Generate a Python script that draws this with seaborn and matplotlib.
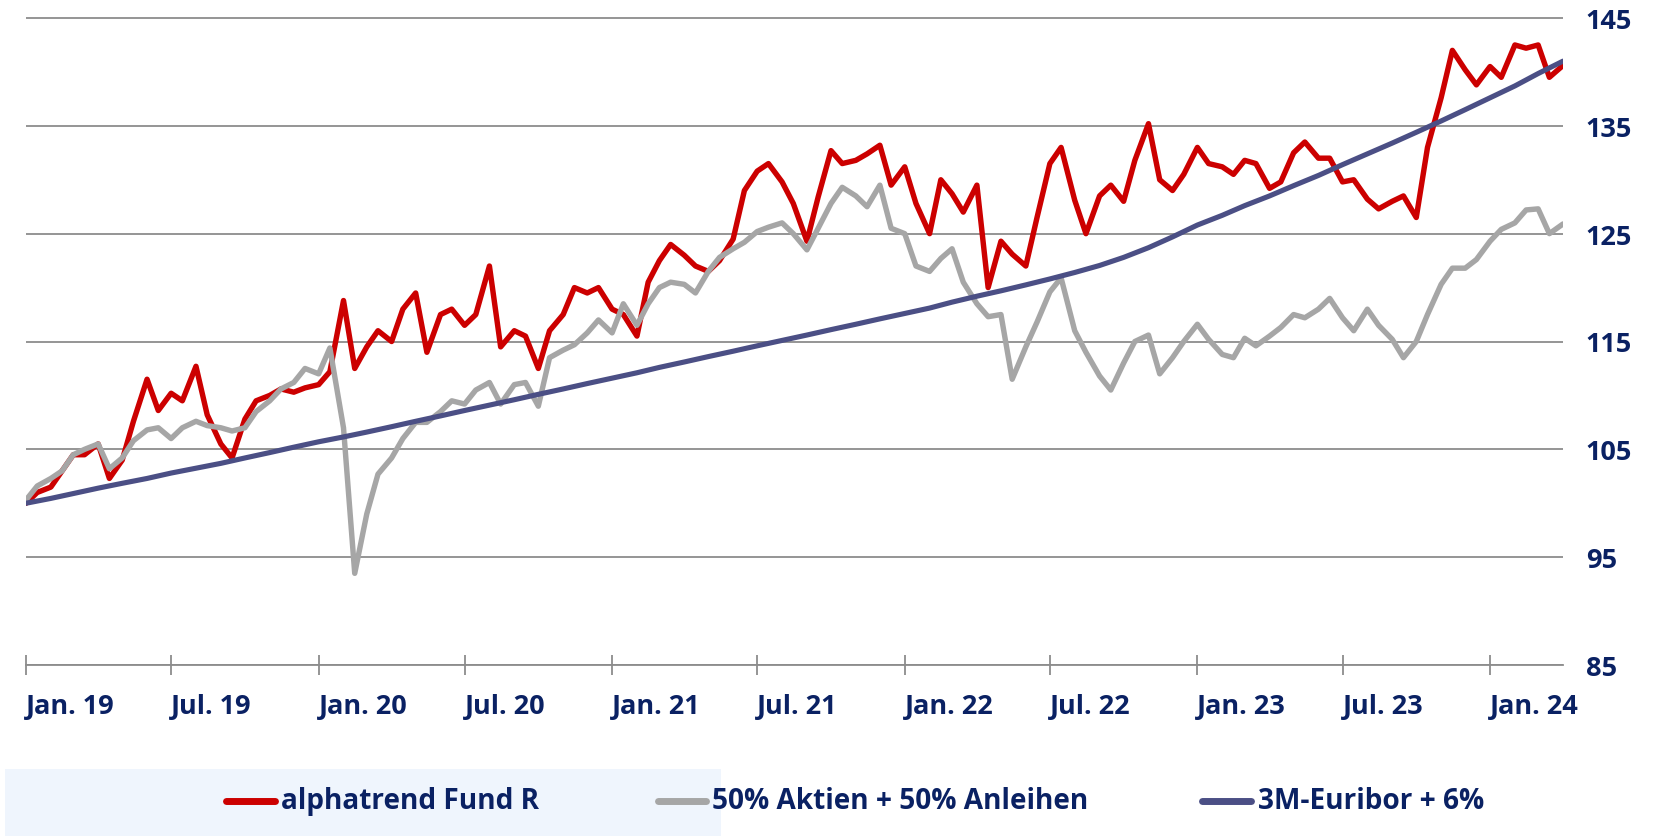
import pandas as pd
import matplotlib.pyplot as plt
from matplotlib.patches import Rectangle
from matplotlib.lines import Line2D
import seaborn as sns

# Semi-monthly readings, Jan 2019 - Apr 2024
dates = pd.date_range("2019-01-01", periods=127, freq="SMS")

fund = [100, 101, 101.5, 103, 104.5, 104.5, 105.5, 102.3, 104, 107.6,
        111.5, 108.6, 110.2, 109.5, 112.7, 108.2, 105.5, 104.2, 107.8, 109.5,
        110, 110.6, 110.3, 110.7, 111, 112.2, 118.8, 112.5, 114.5, 116,
        115, 118, 119.5, 114, 117.5, 118, 116.5, 117.5, 122, 114.5,
        116, 115.5, 112.5, 116, 117.5, 120, 119.5, 120, 118, 117.5,
        115.5, 120.5, 122.5, 124, 123, 122, 121.5, 122.5, 124.5, 129,
        130.8, 131.5, 129.8, 127.8, 124.3, 128.4, 132.7, 131.5, 131.8, 132.4,
        133.2, 129.5, 131.2, 127.8, 125, 130, 128.7, 127, 129.5, 120,
        124.3, 123.1, 122, 126.5, 131.5, 133, 128.1, 125, 128.5, 129.5,
        128, 131.8, 135.2, 130, 129, 130.5, 133, 131.5, 131.2, 130.5,
        131.8, 131.5, 129.2, 129.8, 132.5, 133.5, 132, 132, 129.8, 130,
        128.2, 127.3, 128, 128.5, 126.5, 133, 137.6, 142, 140.2, 138.8,
        140.5, 139.5, 142.5, 142.2, 142.5, 139.5, 140.6]

mix = [100.3, 101.6, 102.3, 103, 104.5, 105, 105.5, 103.2, 104.2, 105.8,
       106.8, 107, 106, 107, 107.6, 107.2, 107, 106.7, 107, 108.5,
       109.5, 110.6, 111.2, 112.5, 112, 114.4, 107, 93.5, 99, 102.7,
       104.2, 106, 107.5, 107.5, 108.5, 109.5, 109.2, 110.5, 111.2, 109.2,
       111, 111.2, 109, 113.5, 114.2, 114.7, 115.8, 117, 115.8, 118.5,
       116.5, 118.5, 120, 120.5, 120.3, 119.5, 121.5, 122.8, 123.6, 124.2,
       125.2, 125.6, 126, 125, 123.5, 125.5, 127.8, 129.3, 128.5, 127.5,
       129.5, 125.5, 125, 122, 121.5, 122.7, 123.6, 120.5, 118.5, 117.3,
       117.5, 111.5, 114.5, 116.8, 119.6, 120.9, 116, 114, 111.8, 110.5,
       113, 115, 115.6, 112, 113.5, 115, 116.6, 115.2, 113.8, 113.5,
       115.3, 114.6, 115.5, 116.3, 117.5, 117.2, 118, 119, 117.2, 116,
       118, 116.5, 115.2, 113.5, 115, 117.5, 120.3, 121.8, 121.8, 122.6,
       124.3, 125.4, 126, 127.2, 127.3, 125, 125.9]

# Monthly readings of the benchmark curve
euribor_dates = pd.date_range("2019-01-01", periods=64, freq="MS")
euribor = [100.0, 100.45, 100.9, 101.4, 101.85, 102.3, 102.8, 103.25, 103.7, 104.2,
           104.7, 105.2, 105.7, 106.15, 106.6, 107.1, 107.6, 108.1, 108.6, 109.1,
           109.6, 110.1, 110.6, 111.1, 111.6, 112.1, 112.6, 113.1, 113.6, 114.1,
           114.6, 115.1, 115.6, 116.1, 116.6, 117.1, 117.6, 118.1, 118.65, 119.2,
           119.7, 120.25, 120.8, 121.4, 122.05, 122.8, 123.7, 124.7, 125.8, 126.7,
           127.6, 128.5, 129.45, 130.4, 131.4, 132.4, 133.4, 134.4, 135.45, 136.5,
           137.6, 138.7, 139.85, 141.0]

tick_dates = pd.date_range("2019-01-01", "2024-01-01", freq="6MS")
tick_labels = ["Jan. 19", "Jul. 19", "Jan. 20", "Jul. 20", "Jan. 21", "Jul. 21",
               "Jan. 22", "Jul. 22", "Jan. 23", "Jul. 23", "Jan. 24"]
y_ticks = [85, 95, 105, 115, 125, 135, 145]

series_names = ["alphatrend Fund R", "50% Aktien + 50% Anleihen", "3M-Euribor + 6%"]
colors = ["#CC0000", "#A6A6A6", "#4B4F85"]
text_color = "#0A2163"
grid_color = "#8C8C8C"

sns.set_style("white")
plt.rcParams["font.family"] = ["Open Sans", "DejaVu Sans"]
plt.rcParams["font.weight"] = "bold"

W, H = 1658, 837
fig = plt.figure(figsize=(W / 100, H / 100), dpi=100)

# light blue panel behind the first legend entry
fig.patches.append(Rectangle((5 / W, 0), 716 / W, 67 / H, transform=fig.transFigure,
                             facecolor="#EFF5FD", edgecolor="none", zorder=0))

px_per_unit = (666 - 19) / 60
top_px = 19 - 1 * px_per_unit
ax = fig.add_axes([26 / W, 1 - 666 / H, (1563 - 26) / W, (666 - top_px) / H])
ax.set_facecolor("none")

lw = 3.9
sns.lineplot(x=dates, y=fund, ax=ax, color=colors[0], linewidth=lw)
sns.lineplot(x=dates, y=mix, ax=ax, color=colors[1], linewidth=lw)
sns.lineplot(x=euribor_dates, y=euribor, ax=ax, color=colors[2], linewidth=3.7)

ax.set_xlim(pd.Timestamp("2019-01-01"), pd.Timestamp("2024-04-01"))
ax.set_ylim(85, 146)
ax.set_xlabel("")
ax.set_ylabel("")

ax.set_yticks(y_ticks)
ax.yaxis.tick_right()
ax.tick_params(axis="y", length=0, pad=16.5, labelsize=19.5, labelcolor=text_color)
ax.grid(axis="y", color=grid_color, linewidth=1.3)
ax.grid(axis="x", visible=False)

ax.set_xticks(tick_dates)
ax.set_xticklabels(tick_labels, ha="left")
ax.tick_params(axis="x", bottom=True, direction="inout", length=14, width=1.3,
               color=grid_color, pad=13, labelsize=19.5, labelcolor=text_color)

for side in ["top", "left", "right"]:
    ax.spines[side].set_visible(False)
ax.spines["bottom"].set_color(grid_color)
ax.spines["bottom"].set_linewidth(1.3)

# legend entries placed by hand: (line start px, line end px, text start px)
legend_pos = [(226, 275, 281), (658, 706, 712), (1202, 1251, 1258)]
y_leg = 1 - 802 / H
for (x0, x1, xt), name, c in zip(legend_pos, series_names, colors):
    fig.lines.append(Line2D([x0 / W, x1 / W], [y_leg, y_leg], transform=fig.transFigure,
                            color=c, linewidth=5, solid_capstyle="round"))
    fig.text(xt / W, y_leg, name, ha="left", va="center", fontsize=20.2,
             color=text_color, fontweight="bold")

fig.savefig("out.png", dpi=100)
